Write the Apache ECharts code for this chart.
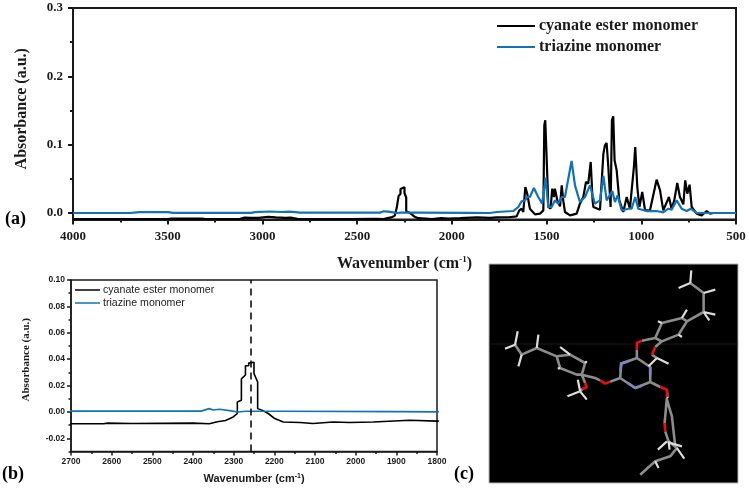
<!DOCTYPE html>
<html><head><meta charset="utf-8">
<style>html,body{margin:0;padding:0;background:#fff}#c{width:749px;height:489px}</style>
<script src="https://cdn.jsdelivr.net/npm/echarts@6/dist/echarts.min.js"></script>
</head><body><div id="c"></div>
<script>
const cyanateEster = [[4000,-0.0088],[3500,-0.0088],[3480,-0.0082],[3320,-0.0082],[3300,-0.0088],[3120,-0.0088],[3095,-0.0068],[3060,-0.0072],[3020,-0.0072],[2970,-0.0055],[2930,-0.0065],[2880,-0.0072],[2850,-0.0068],[2810,-0.0088],[2700,-0.009],[2620,-0.009],[2610,-0.0085],[2550,-0.0088],[2400,-0.0085],[2360,-0.009],[2340,-0.0075],[2320,-0.0065],[2301,-0.0038],[2291,-0.0012],[2291,0.0076],[2281,0.0088],[2281,0.025],[2271,0.028],[2271,0.035],[2263,0.035],[2263,0.037],[2250,0.0376],[2250,0.029],[2241,0.0227],[2241,0.0025],[2227,0.0008],[2215,-0.0012],[2199,-0.005],[2178,-0.0076],[2137,-0.008],[2105,-0.0088],[2055,-0.0076],[2015,-0.008],[1957,-0.0076],[1867,-0.0063],[1800,-0.007],[1764,-0.0065],[1700,-0.0062],[1658,-0.0049],[1644,0.0039],[1632,0.0063],[1623,0.0015],[1612,0.038],[1602,0.028],[1588,0.0063],[1561,-0.002],[1535,-0.001],[1517,0.0039],[1512,0.128],[1507,0.1357],[1500,0.1367],[1494,0.038],[1491,0.0088],[1479,0.0063],[1470,0.0356],[1461,0.0234],[1456,0.0356],[1443,0.0185],[1429,0.0098],[1420,0.0405],[1412,0.0185],[1403,0.0015],[1376,-0.0034],[1341,-0.001],[1324,0.0137],[1306,0.0234],[1292,0.0454],[1280,0.0429],[1267,0.0747],[1257,0.0185],[1253,0.0088],[1218,0.0049],[1200,0.0869],[1192,0.099],[1183,0.1025],[1174,0.0673],[1162,0.0088],[1155,0.1357],[1148,0.1415],[1141,0.0771],[1130,0.0625],[1116,0.0185],[1095,0.0015],[1077,0.0234],[1060,0.0063],[1039,0.0673],[1032,0.0966],[1021,0.038],[1010,0.0088],[995,0.0307],[980,0.0039],[954,0.0039],[919,0.0488],[901,0.0332],[884,0.0039],[854,0.0234],[840,0.0063],[826,0.0185],[810,0.0439],[796,0.0234],[778,0.0127],[768,0.0478],[757,0.0283],[745,0.0415],[734,0.0088],[708,-0.001],[681,-0.0034],[655,0.0029],[637,-0.001],[620,0],[500,0]];
const triazine = [[4000,0],[3700,0],[3650,0.0012],[3500,0.0012],[3470,0.0002],[3060,0.0002],[3040,0.0012],[2960,0.0022],[2900,0.0015],[2860,0.002],[2800,0.0005],[2700,0.0006],[2380,0.0006],[2360,0.0025],[2350,0.0015],[2335,0.002],[2310,0.001],[2290,0],[2270,0.0005],[2180,0.0005],[1900,0.0002],[1800,0],[1764,0.0015],[1676,0.0029],[1649,0.0088],[1632,0.0171],[1614,0.0185],[1602,0.0234],[1588,0.0234],[1567,0.0366],[1544,0.0234],[1523,0.0137],[1505,0.0517],[1491,0.0088],[1473,0.0088],[1456,0.0185],[1438,0.0137],[1420,0.0234],[1403,0.0234],[1368,0.0761],[1350,0.0405],[1324,0.0161],[1297,0.0234],[1271,0.0405],[1245,0.0137],[1218,0.0185],[1200,0.0542],[1183,0.0185],[1174,0.0185],[1153,0.0322],[1139,0.0161],[1125,0.0259],[1104,0.0039],[1068,0.0063],[1051,0.0063],[1032,0.0234],[1016,0.0063],[972,0.0029],[919,0.0029],[884,0.001],[857,0.0063],[840,0.0049],[813,0.0185],[787,0.0063],[760,0.0029],[739,0.0063],[708,0],[500,0]];

const seriesNames = ['cyanate ester monomer','triazine monomer'];
const ticksA = [0,0.1,0.2,0.3];
const minorA = [0.05,0.15,0.25];
const ticksB = [-0.02,0,0.02,0.04,0.06,0.08,0.10];
const minorB = [-0.03,-0.01,0.01,0.03,0.05,0.07,0.09];
const markerWavenumber = 2258;

const bondsGrey = [
 [[405,355],[408,312]],[[408,312],[455,295],[495,322],[495,367],[450,385],[405,355]],
 [[405,355],[375,366]],[[345,362],[330,355],[290,345],[300,310],[255,285],[215,290],[225,325],[275,345],[290,345]],
 [[215,290],[155,265],[110,285],[90,255]],[[290,345],[300,370]],[[285,395],[292,388]],
 [[455,295],[455,270]],[[470,243],[510,235],[530,190],[590,175],[605,185],[580,225],[530,245],[510,235]],
 [[605,185],[655,157],[655,100],[615,70]],[[530,245],[510,262]],[[500,285],[515,295]],
 [[495,367],[525,382]],[[545,415],[540,470],[538,490]],[[540,515],[550,545],[575,565],[555,590],[510,605],[465,645]],[[545,420],[560,470],[570,560]]
];
const bondsWhite = [
 [[155,265],[160,225]],[[90,255],[60,267]],[[90,255],[98,215]],[[110,285],[100,320]],[[255,285],[225,262]],[[300,310],[305,305]],[[225,325],[218,327]],
 [[285,395],[247,410]],[[285,395],[305,420]],[[285,395],[278,360]],
 [[655,157],[672,182]],[[655,157],[690,165]],[[655,100],[690,90]],[[615,70],[580,85]],[[615,70],[618,32]],[[530,190],[518,185]],[[590,175],[605,150]],[[580,225],[590,232]],
 [[515,295],[550,312]],[[515,295],[490,320]],[[545,545],[518,570]],[[550,545],[553,570]],[[575,565],[597,597]],[[548,548],[590,560]],[[510,605],[520,625]],[[545,390],[547,415]]
];
const bondsRed = [[[375,366],[360,372],[345,362]],[[455,270],[455,250],[470,243]],[[525,382],[545,390],[545,412]],[[300,370],[305,383],[292,388]],[[510,262],[500,285]],[[538,490],[540,515]]];
const bondsBlue = [[[405,312],[432,303]],[[408,312],[406,335]],[[495,322],[495,345]],[[470,378],[450,385],[428,370]]];
const faintLine = [[[12,253],[758,253]]];

function flat(paths){const out=[];paths.forEach(p=>{p.forEach(q=>out.push(q));out.push(null);});return out;}
function mol(paths,color,w){return {type:'line',xAxisIndex:4,yAxisIndex:4,data:flat(paths),symbol:'none',silent:true,connectNulls:false,lineStyle:{color:color,width:w},itemStyle:{color:color},animation:false};}

const dark='#1a1a1a', blue='#1272b8';
const serif='"Liberation Serif","Times New Roman",serif', sans='"Liberation Sans",Arial,sans-serif';

const chart=echarts.init(document.getElementById('c'),null,{renderer:'canvas'});
function xA(idx,min,max,iv,fs,ff,name,gap,nf,lw,ml){return {type:'value',gridIndex:idx,inverse:true,min,max,interval:iv,position:'bottom',
 name,nameLocation:'middle',nameGap:gap,nameTextStyle:nf,
 axisLine:{onZero:false,show:true,lineStyle:{color:dark,width:lw}},axisTick:{show:true,length:idx?4:5,lineStyle:{color:dark,width:lw}},
 minorTick:{show:true,splitNumber:2,length:idx?2.5:3,lineStyle:{color:dark,width:lw}},splitLine:{show:false},minorSplitLine:{show:false},
 axisLabel:{fontFamily:ff,fontSize:fs,fontWeight:'bold',color:dark,margin:ml,hideOverlap:false,showMinLabel:true,showMaxLabel:true,formatter:v=>String(v)}};}
function yA(idx,min,max,ticks,dec,fs,ff,name,gap,nf,lw,ml){return {type:'value',gridIndex:idx,min,max,position:'left',
 name,nameLocation:'middle',nameGap:gap,nameTextStyle:nf,
 axisLine:{onZero:false,show:true,lineStyle:{color:dark,width:lw}},
 axisTick:{show:true,length:idx?4:5,customValues:ticks,lineStyle:{color:dark,width:lw}},splitLine:{show:false},
 axisLabel:{show:true,customValues:ticks,fontFamily:ff,fontSize:fs,fontWeight:'bold',color:dark,margin:ml,formatter:v=>Number(v).toFixed(dec)}};}
function yMinor(idx,min,max,ticks,lw){return {type:'value',gridIndex:idx,min,max,position:'left',axisLine:{show:false},splitLine:{show:false},axisLabel:{show:false},
 axisTick:{show:true,length:idx?2.5:3,customValues:ticks,lineStyle:{color:dark,width:lw}}};}

const supA={fontSize:9,fontWeight:'bold',fontFamily:serif,color:dark,padding:[0,0,7,0]};
const supB={fontSize:7,fontWeight:'bold',fontFamily:sans,color:dark,padding:[0,0,5,0]};

chart.setOption({
 animation:false,backgroundColor:'#fff',
 grid:[
  {left:73,top:8,width:663,height:211.5,show:true,borderColor:dark,borderWidth:2,backgroundColor:'transparent'},
  {left:71,top:280,width:366,height:171.5,show:true,borderColor:dark,borderWidth:1.5,backgroundColor:'transparent'},
  {left:489,top:264,width:249,height:219,show:true,borderColor:'#b5b5b5',borderWidth:1,backgroundColor:'#000'}
 ],
 xAxis:[
  xA(0,500,4000,500,13,serif,'{t|Wavenumber (cm}{s|-1}{t|)}',36,{rich:{t:{fontSize:16,fontWeight:'bold',fontFamily:serif,color:dark},s:supA}},2,11),
  xA(1,1800,2700,100,8.5,sans,'{t|Wavenumber (cm}{s|-1}{t|)}',21,{rich:{t:{fontSize:11,fontWeight:'bold',fontFamily:sans,color:dark},s:supB}},1.5,6),
  {type:'value',gridIndex:0,show:false,min:500,max:4000,inverse:true},
  {type:'value',gridIndex:1,show:false,min:1800,max:2700,inverse:true},
  {type:'value',gridIndex:2,show:false,min:12,max:758}
 ],
 yAxis:[
  yA(0,-0.0095,0.3,ticksA,1,13,serif,'Absorbance (a.u.)',43,{fontSize:16,fontWeight:'bold',fontFamily:serif,color:dark,padding:[0,0,0,10]},2,10),
  yA(1,-0.03,0.10,ticksB,2,8.5,sans,'Absorbance (a.u.)',39,{fontSize:11,fontWeight:'bold',fontFamily:serif,color:dark,padding:[0,0,0,12]},1.5,6),
  yMinor(0,-0.0095,0.3,minorA,2),
  yMinor(1,-0.03,0.10,minorB,1.5),
  {type:'value',gridIndex:2,show:false,min:13,max:670,inverse:true}
 ],
 legend:[
  {data:seriesNames,orient:'vertical',left:497,top:17,padding:0,icon:'rect',itemWidth:38,itemHeight:2,itemGap:3,selectedMode:false,textStyle:{fontFamily:serif,fontWeight:'bold',fontSize:16,color:dark,lineHeight:18,padding:[0,0,0,-1]}},
  {data:seriesNames,orient:'vertical',left:75,top:284,padding:0,icon:'rect',itemWidth:25,itemHeight:1.5,itemGap:1,selectedMode:false,textStyle:{fontFamily:sans,fontSize:10.6,color:'#222',lineHeight:12,padding:[0,0,0,-2]}}
 ],
 series:[
  {name:seriesNames[0],type:'line',xAxisIndex:0,yAxisIndex:0,data:cyanateEster,symbol:'none',z:3,lineStyle:{color:'#000',width:2.2},itemStyle:{color:'#000'}},
  {name:seriesNames[1],type:'line',xAxisIndex:0,yAxisIndex:0,data:triazine,symbol:'none',z:4,lineStyle:{color:blue,width:2.2},itemStyle:{color:blue}},
  {name:seriesNames[0],type:'line',xAxisIndex:1,yAxisIndex:1,data:cyanateEster,symbol:'none',z:3,lineStyle:{color:'#000',width:1.6},itemStyle:{color:'#000'},
   markLine:{silent:true,symbol:'none',animation:false,label:{show:false},lineStyle:{color:'#000',type:[7,5],width:1.5},data:[{xAxis:markerWavenumber}]}},
  {name:seriesNames[1],type:'line',xAxisIndex:1,yAxisIndex:1,data:triazine,symbol:'none',z:4,lineStyle:{color:blue,width:1.6},itemStyle:{color:blue}},
  mol(faintLine,'#262626',0.7),
  mol(bondsGrey,'#8c8c8c',2.6),
  mol(bondsBlue,'#7f86bb',2.6),
  mol(bondsWhite,'#dcdcdc',2.2),
  mol(bondsRed,'#e80f0f',2.6)
 ],
 graphic:[
  {type:'text',left:5,top:210,style:{text:'(a)',font:'bold 18px '+serif,fill:'#000'}},
  {type:'text',left:2,top:465,style:{text:'(b)',font:'bold 18px '+serif,fill:'#000'}},
  {type:'text',left:454,top:465,style:{text:'(c)',font:'bold 18px '+serif,fill:'#000'}}
 ]
});
</script></body></html>
